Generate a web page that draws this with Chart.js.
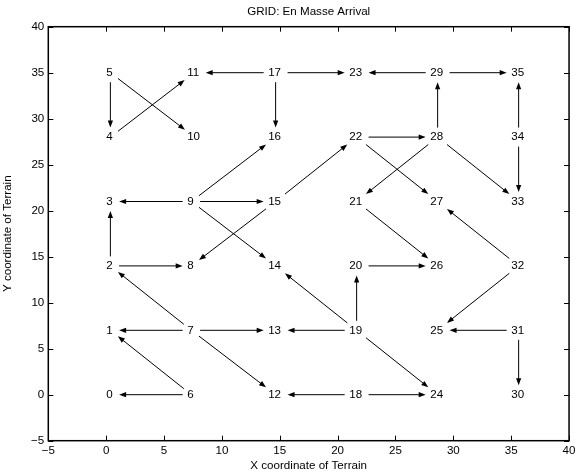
<!DOCTYPE html>
<html>
<head>
<meta charset="utf-8">
<title>GRID: En Masse Arrival</title>
<script src="https://cdn.jsdelivr.net/npm/chart.js@4.4.1/dist/chart.umd.min.js"></script>
<style>
  html, body { margin: 0; padding: 0; background: #fff; }
  #wrap { width: 579px; height: 475px; }
</style>
</head>
<body>
<div id="wrap"><canvas id="gridChart"></canvas></div>
<script>
// Title and axis labels
const chartTitle = 'GRID: En Masse Arrival';
const xTitle = 'X coordinate of Terrain';
const yTitle = 'Y coordinate of Terrain';

// Tick values (both axes)
const axisTicks = [-5, 0, 5, 10, 15, 20, 25, 30, 35, 40];

// Grid nodes: label and terrain coordinates
const nodeLabels = ['0','1','2','3','4','5','6','7','8','9','10','11','12','13','14','15','16','17',
                    '18','19','20','21','22','23','24','25','26','27','28','29','30','31','32','33','34','35'];
const nodeX = [0, 0, 0, 0, 0, 0,
               7, 7, 7, 7, 7, 7,
               14, 14, 14, 14, 14, 14,
               21, 21, 21, 21, 21, 21,
               28, 28, 28, 28, 28, 28,
               35, 35, 35, 35, 35, 35];
const nodeY = [0, 7, 14, 21, 28, 35,
               0, 7, 14, 21, 28, 35,
               0, 7, 14, 21, 28, 35,
               0, 7, 14, 21, 28, 35,
               0, 7, 14, 21, 28, 35,
               0, 7, 14, 21, 28, 35];

// Arrows between nodes (from -> to)
const edgeFrom = [5, 5, 4, 17, 17, 17, 29, 29, 28, 34, 34, 22, 22, 28, 28, 15, 9, 9, 9, 9, 15,
                  2, 2, 7, 7, 7, 7, 6, 6, 18, 18, 19, 19, 19, 19, 20, 21, 32, 32, 31, 31];
const edgeTo   = [4, 10, 11, 11, 23, 16, 23, 35, 29, 35, 33, 28, 27, 21, 33, 22, 16, 3, 15, 14, 8,
                  3, 8, 2, 1, 13, 12, 1, 0, 12, 24, 13, 14, 20, 24, 26, 26, 27, 25, 25, 30];

const FONT = '"Liberation Sans", Arial, Helvetica, sans-serif';
const FSIZE = 11.6;

function fmtTick(v) {
  return v < 0 ? '\u2212' + Math.abs(v) : String(v);
}

// draws the box, inward ticks, title, node labels and arrows
const gridPlugin = {
  id: 'gridPlugin',
  afterDraw(chart) {
    const ctx = chart.ctx;
    const a = chart.chartArea;
    const xs = chart.scales.x, ys = chart.scales.y;
    ctx.save();

    // inward tick marks on all four sides
    ctx.strokeStyle = '#000';
    ctx.lineWidth = 1;
    ctx.beginPath();
    axisTicks.forEach(v => {
      const px = Math.round(xs.getPixelForValue(v)) + 0.5;
      const py = Math.round(ys.getPixelForValue(v)) + 0.5;
      ctx.moveTo(px, a.bottom); ctx.lineTo(px, a.bottom - 5);
      ctx.moveTo(px, a.top); ctx.lineTo(px, a.top + 5);
      ctx.moveTo(a.left, py); ctx.lineTo(a.left + 5, py);
      ctx.moveTo(a.right, py); ctx.lineTo(a.right - 5, py);
    });
    ctx.stroke();

    // axes box
    ctx.lineWidth = 1.5;
    ctx.strokeRect(a.left, a.top, a.right - a.left, a.bottom - a.top);

    // title
    ctx.fillStyle = '#000';
    ctx.font = FSIZE + 'px ' + FONT;
    ctx.textAlign = 'center';
    ctx.textBaseline = 'middle';
    ctx.fillText(chartTitle, (a.left + a.right) / 2, a.top - 14.5);

    // node labels, left aligned at the node
    ctx.textAlign = 'left';
    const centers = [];
    nodeLabels.forEach((lab, i) => {
      const px = xs.getPixelForValue(nodeX[i]);
      const py = ys.getPixelForValue(nodeY[i]);
      ctx.fillText(lab, px, py);
      const w = ctx.measureText(lab).width;
      centers.push({x: px + w / 2 + 1, y: py, hw: w / 2});
    });

    // arrows
    const gap = 5.5, hh = 4, headLen = 7, headW = 2.6;
    function shrink(c, ux, uy) {
      const sx = Math.abs(ux) > 1e-6 ? c.hw / Math.abs(ux) : Infinity;
      const sy = Math.abs(uy) > 1e-6 ? hh / Math.abs(uy) : Infinity;
      return Math.min(sx, sy) + gap;
    }
    ctx.lineWidth = 1;
    edgeFrom.forEach((f, k) => {
      const p = centers[f], q = centers[edgeTo[k]];
      const dx = q.x - p.x, dy = q.y - p.y;
      const len = Math.hypot(dx, dy);
      const ux = dx / len, uy = dy / len;
      const s1 = shrink(p, ux, uy), s2 = shrink(q, ux, uy);
      const x0 = p.x + ux * s1, y0 = p.y + uy * s1;
      const x1 = q.x - ux * s2, y1 = q.y - uy * s2;
      const bx = x1 - ux * headLen, by = y1 - uy * headLen;
      ctx.beginPath();
      ctx.moveTo(x0, y0);
      ctx.lineTo(bx + ux * 1, by + uy * 1);
      ctx.stroke();
      ctx.beginPath();
      ctx.moveTo(x1, y1);
      ctx.lineTo(bx - uy * headW, by + ux * headW);
      ctx.lineTo(bx + uy * headW, by - ux * headW);
      ctx.closePath();
      ctx.fill();
    });

    ctx.restore();
  }
};

const ctx = document.getElementById('gridChart').getContext('2d');
const gridChart = new Chart(ctx, {
  type: 'scatter',
  data: {
    datasets: [{
      label: 'nodes',
      data: nodeX.map((v, i) => ({x: v, y: nodeY[i]})),
      pointRadius: 0,
      showLine: false
    }]
  },
  options: {
    responsive: true,
    maintainAspectRatio: false,
    animation: false,
    layout: { padding: { top: 26.7, right: 6.3, left: 0, bottom: 0 } },
    plugins: {
      legend: { display: false },
      tooltip: { enabled: false },
      title: { display: false }
    },
    scales: {
      x: {
        type: 'linear',
        min: -5,
        max: 40,
        afterBuildTicks: s => { s.ticks = axisTicks.map(v => ({value: v})); },
        afterFit: s => { s.height = 34.3; },
        grid: { display: false, drawTicks: false },
        border: { display: false },
        ticks: {
          padding: 3.5,
          color: '#000',
          font: { family: FONT, size: FSIZE },
          callback: fmtTick
        },
        title: {
          display: true,
          text: xTitle,
          color: '#000',
          font: { family: FONT, size: FSIZE },
          padding: { top: 0, bottom: 2.6 }
        }
      },
      y: {
        type: 'linear',
        min: -5,
        max: 40,
        afterBuildTicks: s => { s.ticks = axisTicks.map(v => ({value: v})); },
        afterFit: s => { s.width = 48.3; },
        grid: { display: false, drawTicks: false },
        border: { display: false },
        ticks: {
          padding: 4,
          color: '#000',
          font: { family: FONT, size: FSIZE },
          callback: fmtTick
        },
        title: {
          display: true,
          text: yTitle,
          color: '#000',
          font: { family: FONT, size: FSIZE },
          padding: { top: 1, bottom: 0 }
        }
      }
    }
  },
  plugins: [gridPlugin]
});
</script>
</body>
</html>
